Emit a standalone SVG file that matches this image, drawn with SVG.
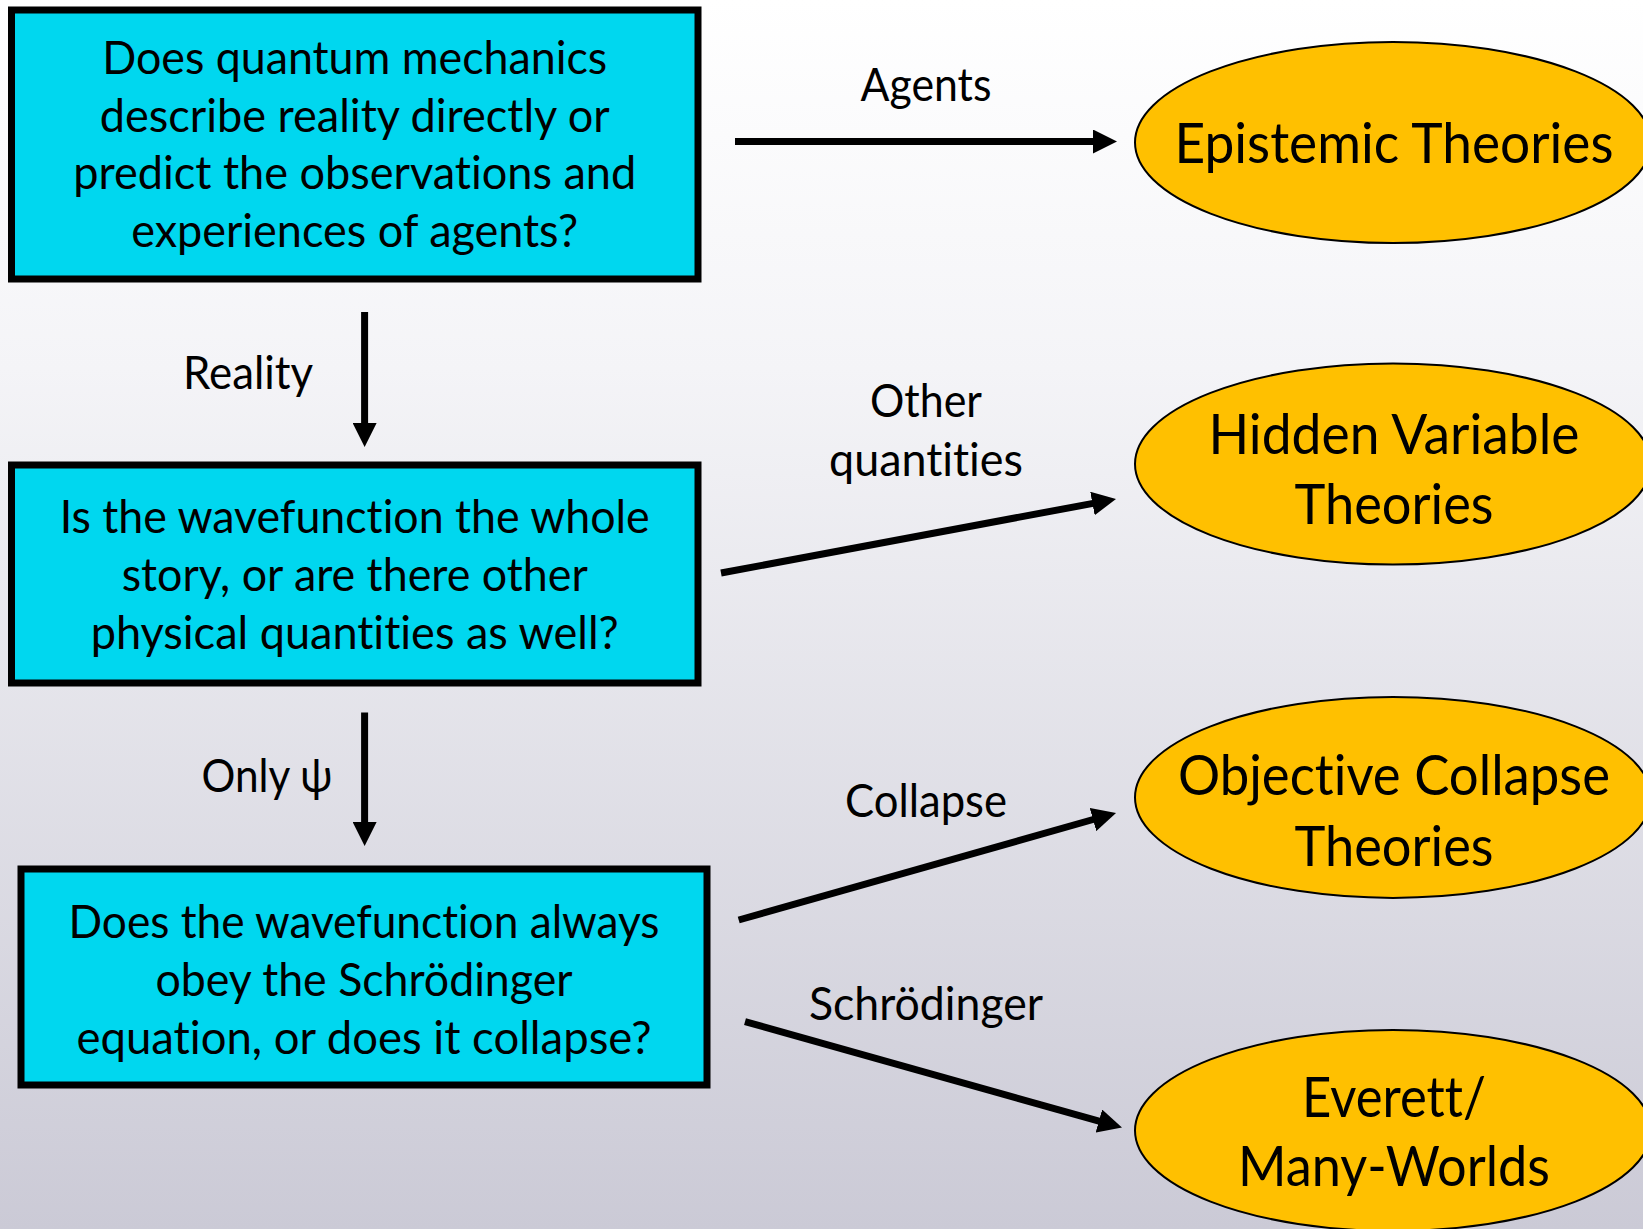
<svg xmlns="http://www.w3.org/2000/svg" width="1643" height="1229" viewBox="0 0 1643 1229">
<defs>
<linearGradient id="bg" x1="0" y1="0" x2="0" y2="1">
<stop offset="0" stop-color="#ffffff"/>
<stop offset="0.3" stop-color="#f4f4f7"/>
<stop offset="1" stop-color="#cbcad6"/>
</linearGradient>
<marker id="ah" markerUnits="userSpaceOnUse" markerWidth="25" markerHeight="24" refX="2" refY="12" orient="auto" viewBox="0 0 25 24">
<path d="M0,0 L24,12 L0,24 z" fill="#000"/>
</marker>
<style>
.box{fill:#00d7ef;stroke:#000;stroke-width:7}
.ell{fill:#ffc000;stroke:#000;stroke-width:2}
.t,.e{font-family:Lato,"Open Sans","Liberation Sans",sans-serif;fill:#000;text-anchor:middle;font-variant-ligatures:none;font-feature-settings:"liga" 0,"clig" 0,"calt" 0,"dlig" 0}
.t{font-size:46px}
.e{font-size:56px}
.c{stroke:#000;stroke-width:7;fill:none;marker-end:url(#ah)}
</style>
</defs>
<rect x="0" y="0" width="1643" height="1229" fill="url(#bg)"/>
<g id="connectors">
<line class="c" x1="735" y1="141.5" x2="1095" y2="141.5"/>
<line class="c" x1="364.6" y1="312" x2="364.6" y2="425"/>
<line class="c" x1="721" y1="573" x2="1094.4" y2="503.1"/>
<line class="c" x1="364.6" y1="712.5" x2="364.6" y2="824"/>
<line class="c" x1="738.7" y1="920" x2="1094.9" y2="819.0"/>
<line class="c" x1="745" y1="1021.6" x2="1100.8" y2="1121.6"/>
<text class="t" x="926" y="101" textLength="131" lengthAdjust="spacingAndGlyphs">Agents</text>
<text class="t" x="248" y="389" textLength="130" lengthAdjust="spacingAndGlyphs">Reality</text>
<text class="t" x="926" y="417" textLength="112" lengthAdjust="spacingAndGlyphs">Other</text>
<text class="t" x="926" y="476" textLength="194" lengthAdjust="spacingAndGlyphs">quantities</text>
<text class="t" x="267" y="792" textLength="131" lengthAdjust="spacingAndGlyphs">Only ψ</text>
<text class="t" x="926" y="817" textLength="162" lengthAdjust="spacingAndGlyphs">Collapse</text>
<text class="t" x="926" y="1020" textLength="234" lengthAdjust="spacingAndGlyphs">Schrödinger</text>
</g>
<g id="q1">
<rect class="box" x="11.5" y="10" width="686.5" height="269"/>
<text class="t" x="354.7" y="74" textLength="505" lengthAdjust="spacingAndGlyphs">Does quantum mechanics</text>
<text class="t" x="354.7" y="132" textLength="510" lengthAdjust="spacingAndGlyphs">describe reality directly or</text>
<text class="t" x="354.7" y="189" textLength="563" lengthAdjust="spacingAndGlyphs">predict the observations and</text>
<text class="t" x="354.7" y="247" textLength="447" lengthAdjust="spacingAndGlyphs">experiences of agents?</text>
</g>
<g id="q2">
<rect class="box" x="11.5" y="465" width="686.5" height="218"/>
<text class="t" x="354.7" y="533" textLength="590" lengthAdjust="spacingAndGlyphs">Is the wavefunction the whole</text>
<text class="t" x="354.7" y="591" textLength="466" lengthAdjust="spacingAndGlyphs">story, or are there other</text>
<text class="t" x="354.7" y="649" textLength="528" lengthAdjust="spacingAndGlyphs">physical quantities as well?</text>
</g>
<g id="q3">
<rect class="box" x="21" y="869" width="686" height="216"/>
<text class="t" x="364" y="938" textLength="591" lengthAdjust="spacingAndGlyphs">Does the wavefunction always</text>
<text class="t" x="364" y="996" textLength="417" lengthAdjust="spacingAndGlyphs">obey the Schrödinger</text>
<text class="t" x="364" y="1054" textLength="575" lengthAdjust="spacingAndGlyphs">equation, or does it collapse?</text>
</g>
<g id="epistemic">
<ellipse class="ell" cx="1393" cy="142.5" rx="258" ry="100.5"/>
<text class="e" x="1394" y="163" textLength="439" lengthAdjust="spacingAndGlyphs">Epistemic Theories</text>
</g>
<g id="hidden">
<ellipse class="ell" cx="1393" cy="464" rx="258" ry="100.5"/>
<text class="e" x="1394" y="454" textLength="371" lengthAdjust="spacingAndGlyphs">Hidden Variable</text>
<text class="e" x="1394" y="524" textLength="199" lengthAdjust="spacingAndGlyphs">Theories</text>
</g>
<g id="collapse">
<ellipse class="ell" cx="1393" cy="797.4" rx="258" ry="100.5"/>
<text class="e" x="1394" y="795" textLength="432" lengthAdjust="spacingAndGlyphs">Objective Collapse</text>
<text class="e" x="1394" y="866" textLength="199" lengthAdjust="spacingAndGlyphs">Theories</text>
</g>
<g id="everett">
<ellipse class="ell" cx="1393" cy="1130.5" rx="258" ry="100.5"/>
<text class="e" x="1394" y="1117" textLength="184" lengthAdjust="spacingAndGlyphs">Everett/</text>
<text class="e" x="1394" y="1186" textLength="312" lengthAdjust="spacingAndGlyphs">Many-Worlds</text>
</g>
</svg>
